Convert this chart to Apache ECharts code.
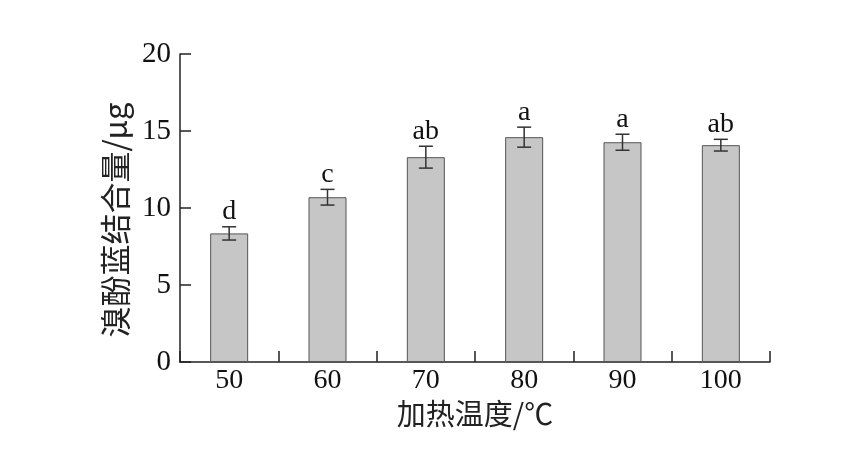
<!DOCTYPE html>
<html>
<head>
<meta charset="utf-8">
<script src="https://cdn.jsdelivr.net/npm/echarts@6/dist/echarts.min.js"></script>
<style>
html,body{margin:0;padding:0;background:#fff;}
#chart{width:858px;height:453px;}
</style>
</head>
<body>
<div id="chart"></div>
<script>
var categories = ['50', '60', '70', '80', '90', '100'];
var means = [8.35, 10.7, 13.3, 14.6, 14.27, 14.08];
var errors = [0.43, 0.51, 0.71, 0.65, 0.52, 0.38];
var letters = ['d', 'c', 'ab', 'a', 'a', 'ab'];
var yTicks = [0, 5, 10, 15, 20];

var SERIF = '"Liberation Serif", "Times New Roman", serif';
var CJK = '"Noto Sans CJK SC", "Liberation Serif", sans-serif';

var chart = echarts.init(document.getElementById('chart'));
var errData = means.map(function (m, i) { return [i, m - errors[i], m + errors[i], letters[i]]; });

chart.setOption({
  animation: false,
  backgroundColor: '#fff',
  grid: { left: 180, right: 88, top: 54, bottom: 91 },
  xAxis: {
    type: 'category',
    data: categories,
    boundaryGap: true,
    axisLine: { show: true, lineStyle: { color: '#222', width: 1.5 } },
    axisTick: { show: true, inside: true, length: 11, alignWithLabel: false, interval: 0, lineStyle: { color: '#222', width: 1.5 } },
    axisLabel: { color: '#111', fontFamily: SERIF, fontSize: 28, margin: 5 },
    name: '加热温度/℃',
    nameLocation: 'middle',
    nameGap: 35,
    nameTextStyle: { color: '#222', fontFamily: CJK, fontSize: 29 }
  },
  yAxis: {
    type: 'value',
    min: yTicks[0],
    max: yTicks[yTicks.length - 1],
    interval: 5,
    axisLine: { show: true, lineStyle: { color: '#222', width: 1.5 } },
    axisTick: { show: true, inside: true, length: 11, lineStyle: { color: '#222', width: 1.5 } },
    splitLine: { show: false },
    axisLabel: { color: '#111', fontFamily: SERIF, fontSize: 29, margin: 9 },
    name: '溴酚蓝结合量/μg',
    nameLocation: 'middle',
    nameGap: 46,
    nameTextStyle: { color: '#222', fontFamily: CJK, fontSize: 31, padding: [0, 24, 0, 0] }
  },
  series: [
    {
      type: 'bar',
      data: means,
      barWidth: 38,
      itemStyle: { color: '#c6c6c6', borderColor: '#555', borderWidth: 1 },
      z: 2
    },
    {
      type: 'custom',
      data: errData,
      z: 3,
      renderItem: function (params, api) {
        var x = api.value(0);
        var lo = api.coord([x, api.value(1)]);
        var hi = api.coord([x, api.value(2)]);
        var half = 7;
        var st = { stroke: '#333', lineWidth: 1.5 };
        return {
          type: 'group',
          children: [
            { type: 'line', shape: { x1: lo[0], y1: lo[1], x2: hi[0], y2: hi[1] }, style: st },
            { type: 'line', shape: { x1: lo[0] - half, y1: lo[1], x2: lo[0] + half, y2: lo[1] }, style: st },
            { type: 'line', shape: { x1: hi[0] - half, y1: hi[1], x2: hi[0] + half, y2: hi[1] }, style: st },
            { type: 'text', style: { x: hi[0], y: hi[1] - 1, text: api.value(3), textAlign: 'center', textVerticalAlign: 'bottom', font: '28px ' + SERIF, fill: '#111' } }
          ]
        };
      }
    }
  ]
});
</script>
</body>
</html>
